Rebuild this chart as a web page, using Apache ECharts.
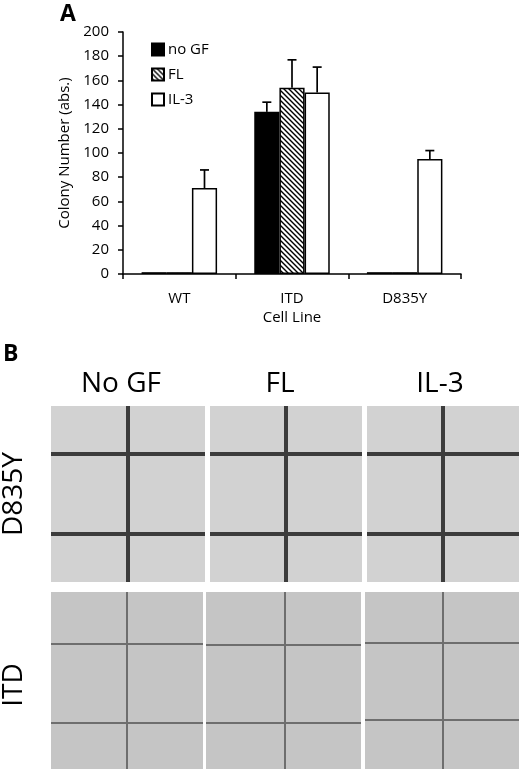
<!DOCTYPE html>
<html>
<head>
<meta charset="utf-8">
<script src="https://cdn.jsdelivr.net/npm/echarts@6/dist/echarts.min.js"></script>
<style>
html,body{margin:0;padding:0;background:#fff;}
#chart{width:520px;height:769px;}
</style>
</head>
<body>
<div id="chart"></div>
<script>
// ---- data ----
var categories = ['WT', 'ITD', 'D835Y'];
var seriesNames = ['no GF', 'FL', 'IL-3'];
var noGF = [1.5, 134, 1.5];
var FL = [1.5, 154, 1.5];
var IL3 = [71, 150, 95];
var noGFErrTop = [null, 142, null];
var FLErrTop = [null, 177, null];
var IL3ErrTop = [86, 171, 102];
var yTicks = [0, 20, 40, 60, 80, 100, 120, 140, 160, 180, 200];
var photoColumns = ['No GF', 'FL', 'IL-3'];
var photoRows = ['D835Y', 'ITD'];

var FONT = '"Open Sans", "Noto Sans", sans-serif';

// hatch pattern for FL
var pc = document.createElement('canvas');
pc.width = 5; pc.height = 5;
var g = pc.getContext('2d');
g.fillStyle = '#fff'; g.fillRect(0, 0, 5, 5);
g.strokeStyle = '#000'; g.lineWidth = 1.4;
g.beginPath();
g.moveTo(-1, -1); g.lineTo(6, 6);
g.moveTo(-1, 4); g.lineTo(1, 6);
g.moveTo(4, -1); g.lineTo(6, 1);
g.stroke();

var gapFrac = 0.33;
var means = [noGF, FL, IL3];
var tops = [noGFErrTop, FLErrTop, IL3ErrTop];
var errData = [];
for (var s = 0; s < 3; s++) {
  for (var c = 0; c < categories.length; c++) {
    if (tops[s][c] != null) errData.push([c, means[s][c], tops[s][c], s]);
  }
}

function renderErr(params, api) {
  var c = api.value(0), m = api.value(1), t = api.value(2), s = api.value(3);
  var band = api.size([1, 0])[0];
  var bw = band * (1 - gapFrac) / 3;
  var p0 = api.coord([c, m]);
  var p1 = api.coord([c, t]);
  var x = p0[0] + (s - 1) * bw;
  var style = { stroke: '#000', lineWidth: 1.7 };
  return {
    type: 'group',
    children: [
      { type: 'line', shape: { x1: x, y1: p0[1], x2: x, y2: p1[1] }, style: style },
      { type: 'line', shape: { x1: x - 4.5, y1: p1[1], x2: x + 4.5, y2: p1[1] }, style: style }
    ]
  };
}

// ---- panel B (photo approximations) ----
var panels = [
  { x0: 51, x1: 205, y0: 406, y1: 582, v: 128, h: [454, 534], row: 0 },
  { x0: 210, x1: 362, y0: 406, y1: 582, v: 286, h: [454, 534], row: 0 },
  { x0: 367, x1: 519, y0: 406, y1: 582, v: 443, h: [454, 534], row: 0 },
  { x0: 51, x1: 203, y0: 592, y1: 769, v: 127, h: [644, 723], row: 1 },
  { x0: 206, x1: 361, y0: 592, y1: 769, v: 285, h: [645, 723], row: 1 },
  { x0: 365, x1: 519, y0: 592, y1: 769, v: 443, h: [643, 720], row: 1 }
];
var graphics = [
  { type: 'text', left: 60, top: 3, style: { text: 'A', font: 'bold 23px ' + FONT, fill: '#000' } },
  { type: 'text', left: 3, top: 343, style: { text: 'B', font: 'bold 23px ' + FONT, fill: '#000' } }
];
var colCenters = [121, 280, 440];
photoColumns.forEach(function (t, i) {
  graphics.push({ type: 'text', x: colCenters[i], y: 384,
    style: { text: t, font: '28px ' + FONT, fill: '#000', align: 'center', verticalAlign: 'middle' } });
});
var rowCenters = [494, 685];
photoRows.forEach(function (t, i) {
  graphics.push({ type: 'text', x: 14, y: rowCenters[i], rotation: Math.PI / 2,
    style: { text: t, font: '28px ' + FONT, fill: '#000', align: 'center', verticalAlign: 'middle' } });
});
panels.forEach(function (p) {
  var bg = p.row === 0 ? '#d2d2d2' : '#c5c5c5';
  var lc = p.row === 0 ? '#3c3c3c' : '#6e6e6e';
  var lw = p.row === 0 ? 4 : 2;
  graphics.push({ type: 'rect', shape: { x: p.x0, y: p.y0, width: p.x1 - p.x0, height: p.y1 - p.y0 }, style: { fill: bg } });
  p.h.forEach(function (hy) {
    graphics.push({ type: 'rect', shape: { x: p.x0, y: hy - lw / 2, width: p.x1 - p.x0, height: lw }, style: { fill: lc } });
  });
  graphics.push({ type: 'rect', shape: { x: p.v - lw / 2, y: p.y0, width: lw, height: p.y1 - p.y0 }, style: { fill: lc } });
});

var chart = echarts.init(document.getElementById('chart'), null, { renderer: 'canvas' });
var barBase = { type: 'bar', barGap: '0%', barCategoryGap: (gapFrac * 100) + '%' };
chart.setOption({
  animation: false,
  backgroundColor: '#fff',
  textStyle: { fontFamily: FONT },
  grid: { left: 123, top: 32, width: 338, height: 242, containLabel: false },
  legend: {
    orient: 'vertical', left: 146, top: 37, icon: 'rect',
    itemWidth: 12, itemHeight: 12, itemGap: 10,
    data: seriesNames,
    textStyle: { fontSize: 15, color: '#000', fontFamily: FONT, padding: [0, 0, 0, -1] }
  },
  xAxis: {
    type: 'category', data: categories,
    name: 'Cell Line', nameLocation: 'middle', nameGap: 36,
    nameTextStyle: { fontSize: 15, color: '#000', fontFamily: FONT },
    axisLine: { lineStyle: { color: '#000', width: 1.5 } },
    axisTick: { show: true, length: 5, lineStyle: { color: '#000', width: 1.5 } },
    axisLabel: { fontSize: 15, color: '#000', margin: 17 }
  },
  yAxis: {
    type: 'value', min: 0, max: 200, interval: 20,
    name: 'Colony Number (abs.)', nameLocation: 'middle', nameGap: 50,
    nameTextStyle: { fontSize: 15, color: '#000', fontFamily: FONT },
    axisLine: { show: true, lineStyle: { color: '#000', width: 1.5 } },
    axisTick: { show: true, length: 5, lineStyle: { color: '#000', width: 1.5 } },
    axisLabel: { fontSize: 15, color: '#000', margin: 14,
      formatter: function (v) { return yTicks.indexOf(v) >= 0 ? String(v) : ''; } },
    splitLine: { show: false }
  },
  series: [
    Object.assign({}, barBase, { name: seriesNames[0], data: noGF,
      itemStyle: { color: '#000', borderColor: '#000', borderWidth: 1.5 } }),
    Object.assign({}, barBase, { name: seriesNames[1], data: FL,
      itemStyle: { color: { image: pc, repeat: 'repeat' }, borderColor: '#000', borderWidth: 1.5 } }),
    Object.assign({}, barBase, { name: seriesNames[2], data: IL3,
      itemStyle: { color: '#fff', borderColor: '#000', borderWidth: 1.5 } }),
    { type: 'custom', name: 'err', renderItem: renderErr, data: errData, z: 5,
      encode: { x: 0, y: 2 }, silent: true }
  ],
  graphic: graphics
});
</script>
</body>
</html>
